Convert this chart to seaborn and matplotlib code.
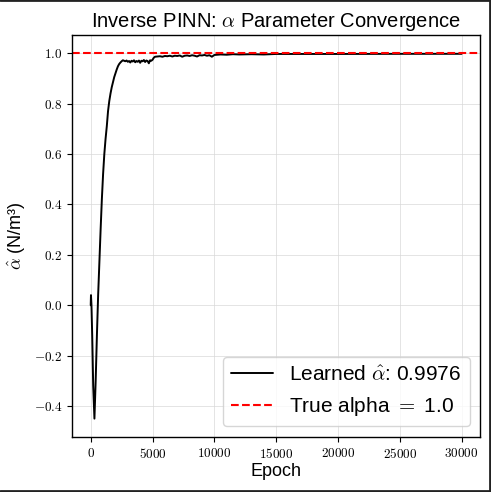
import matplotlib
matplotlib.use("Agg")
import matplotlib.pyplot as plt
import seaborn as sns
import numpy as np
from matplotlib.ticker import FuncFormatter
from matplotlib.lines import Line2D

# learned alpha history
epoch_rise = [0, 20, 60, 120, 200, 300, 400, 500, 600, 700, 800, 900, 1000, 1100, 1200,
              1300, 1400, 1500, 1600, 1700, 1800, 1900, 2000, 2100, 2200, 2300, 2400, 2500]
alpha_rise = [0.0, 0.04, 0.0, -0.12, -0.32, -0.45, -0.30, -0.12, 0.04, 0.17, 0.30, 0.42,
              0.52, 0.60, 0.66, 0.71, 0.77, 0.81, 0.84, 0.865, 0.885, 0.905, 0.92, 0.935,
              0.948, 0.957, 0.963, 0.968]

epoch_plateau1 = list(range(2600, 5001, 100))
alpha_plateau1 = [0.972, 0.970, 0.968, 0.971, 0.966, 0.969, 0.963, 0.970, 0.967, 0.972,
                  0.964, 0.969, 0.966, 0.971, 0.962, 0.970, 0.968, 0.973, 0.965, 0.971,
                  0.969, 0.960, 0.972, 0.970, 0.974]

epoch_plateau2 = [5100, 5200] + list(range(5400, 10001, 200))
alpha_plateau2 = [0.982, 0.986,
                  0.987, 0.988, 0.986, 0.989, 0.988, 0.990, 0.987, 0.990, 0.989, 0.991,
                  0.986, 0.990, 0.991, 0.989, 0.992, 0.990, 0.987, 0.992, 0.991, 0.993,
                  0.990, 0.992, 0.986, 0.993]

epoch_tail = [10500, 11000, 11500, 12000, 13000, 14000, 15000, 17000, 20000, 25000, 30000]
alpha_tail = [0.995, 0.994, 0.996, 0.995, 0.996, 0.995, 0.997, 0.997, 0.997, 0.9975, 0.9976]

epochs = epoch_rise + epoch_plateau1 + epoch_plateau2 + epoch_tail
alphas = alpha_rise + alpha_plateau1 + alpha_plateau2 + alpha_tail

true_alpha = 1.0
final_alpha = 0.9976

sns.set_theme(style="ticks")
plt.rcParams['font.family'] = ['Liberation Sans', 'DejaVu Sans']
plt.rcParams['mathtext.fontset'] = 'cm'
plt.rcParams['text.color'] = 'black'
plt.rcParams['axes.labelcolor'] = 'black'

fig = plt.figure(figsize=(4.91, 4.92), dpi=100)
ax = fig.add_axes([0.147, 0.112, 0.831, 0.817])

sns.lineplot(x=epochs, y=alphas, ax=ax, color='black', linewidth=1.4,
             label=r"Learned $\hat{\alpha}$: %.4f" % final_alpha)
ax.axhline(true_alpha, color='red', linestyle='--', linewidth=1.5,
           label=r"True alpha $=$ 1.0")

ax.set_xlim(-1500, 31500)
ax.set_ylim(-0.5225, 1.0725)
ax.set_xticks(range(0, 30001, 5000))
ax.set_yticks(np.arange(-0.4, 1.01, 0.2))
ax.xaxis.set_major_formatter(FuncFormatter(lambda v, p: r"$%d$" % v))
ax.yaxis.set_major_formatter(FuncFormatter(lambda v, p: r"$%.1f$" % v))
ax.tick_params(labelsize=9.5, colors='black', length=3.5, width=0.8)

ax.grid(True, color='#d8d8d8', linewidth=0.7, alpha=0.7)
for s in ax.spines.values():
    s.set_color('black')
    s.set_linewidth(1.0)

ax.set_title(r"Inverse PINN: $\alpha$ Parameter Convergence", fontsize=14.5)
ax.set_xlabel("Epoch", fontsize=13, labelpad=2)
ax.set_ylabel(r"$\hat{\alpha}$ (N/m³)", fontsize=13)

ax.legend(loc='lower right', fontsize=15, frameon=True, fancybox=True,
          framealpha=0.8, edgecolor='#cccccc', handlelength=2.0)

# frame around the figure (top, right, bottom)
for xs, ys in [([0, 1], [0.999, 0.999]), ([0.998, 0.998], [0, 1]), ([0, 1], [0.002, 0.002])]:
    fig.add_artist(Line2D(xs, ys, color='#222222', linewidth=2, transform=fig.transFigure))

fig.savefig("out.png", dpi=100)
